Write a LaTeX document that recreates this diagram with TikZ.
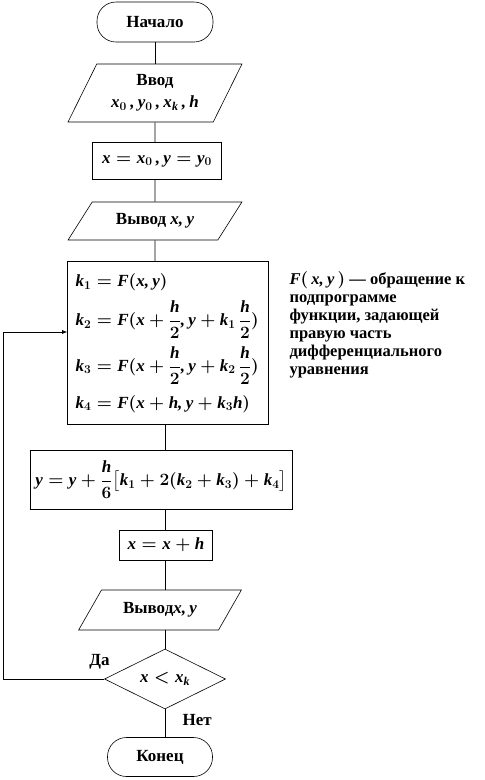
\documentclass[tikz,border=0pt]{standalone}
\usepackage{amsmath}
\usepackage{fontspec}
\setmainfont{Liberation Serif}
\DeclareSymbolFont{tlet}{TU}{\rmdefault}{b}{it}
\DeclareSymbolFont{tup}{TU}{\rmdefault}{b}{n}
\DeclareMathSymbol{x}{\mathalpha}{tlet}{`x}
\DeclareMathSymbol{y}{\mathalpha}{tlet}{`y}
\DeclareMathSymbol{h}{\mathalpha}{tlet}{`h}
\DeclareMathSymbol{k}{\mathalpha}{tlet}{`k}
\DeclareMathSymbol{F}{\mathalpha}{tlet}{`F}
\DeclareMathSymbol{0}{\mathalpha}{tup}{`0}
\DeclareMathSymbol{1}{\mathalpha}{tup}{`1}
\DeclareMathSymbol{2}{\mathalpha}{tup}{`2}
\DeclareMathSymbol{3}{\mathalpha}{tup}{`3}
\DeclareMathSymbol{4}{\mathalpha}{tup}{`4}
\DeclareMathSymbol{6}{\mathalpha}{tup}{`6}
\DeclareMathSymbol{(}{\mathopen}{tlet}{`(}
\DeclareMathSymbol{)}{\mathclose}{tlet}{`)}
\DeclareMathSymbol{,}{\mathpunct}{tlet}{`,}
\usepackage{tikz}
\usetikzlibrary{arrows.meta,shapes.geometric}
\tikzset{
  blockfont/.style={font=\fontsize{17}{20}\selectfont\bfseries\boldmath},
  terminal/.style={draw,rectangle,rounded corners=19pt,line width=0.6pt,
    minimum width=116pt,minimum height=40pt,blockfont},
  io/.style={draw,trapezium,trapezium stretches=true,line width=0.6pt,
    inner sep=2pt,align=center,blockfont},
  process/.style={draw,rectangle,line width=0.6pt,align=center,blockfont},
  decision/.style={draw,diamond,aspect=2,inner sep=0pt,line width=0.6pt,
    minimum width=121pt,minimum height=60pt,blockfont},
  line/.style={draw,line width=0.6pt},
  flow/.style={-{Latex[length=5pt,width=4pt]},line width=0.6pt},
  smalllabel/.style={font=\fontsize{16.5}{18}\selectfont\bfseries\boldmath,align=left}
}
\begin{document}
\begin{tikzpicture}[x=1pt,y=-1pt]
  \useasboundingbox (0,0) rectangle (485,780);
  % main column
  \node[terminal] (start) at (155,22) {Начало};
  \node[io,trapezium left angle=61,trapezium right angle=119,
    minimum width=174pt,minimum height=58pt] (inp) at (155,93)
    {Ввод\\[2pt] $x_0\,,y_0\,,x_k\,,h$};
  \node[process,minimum width=129pt,minimum height=37pt] (init) at (157,161)
    {$x=x_0\,,y=y_0$};
  \node[io,trapezium left angle=50,trapezium right angle=130,
    minimum width=174pt,minimum height=38pt] (out1) at (155,221) {Вывод $x,y$};
  \node[process,align=left,text width=185pt,minimum height=163pt,inner sep=8pt]
    (kbox) at (168,343) {%
    $k_1=F(x,y)$\\[9pt]
    $k_2=F(x+\dfrac{h}{2},y+k_1\,\dfrac{h}{2})$\\[7pt]
    $k_3=F(x+\dfrac{h}{2},y+k_2\,\dfrac{h}{2})$\\[10pt]
    $k_4=F(x+h,y+k_3h)$};
  \node[smalllabel,anchor=north west] (note) at (286,268) {%
    $F(\,x,y\,)$ --- обращение к\\
    подпрограмме\\
    функции, задающей\\
    правую часть\\
    дифференциального\\
    уравнения};
  \node[process,minimum width=262pt,minimum height=59pt] (ybox) at (161,480)
    {$y=y+\dfrac{h}{6}\bigl[k_1+2(k_2+k_3)+k_4\bigr]$};
  \node[process,minimum width=93pt,minimum height=30pt] (xbox) at (166,545)
    {$x=x+h$};
  \node[io,trapezium left angle=51,trapezium right angle=129,
    minimum width=163pt,minimum height=40pt] (out2) at (160,610) {Вывод$x,y$};
  \node[decision] (cond) at (165,679) {$x<x_k$};
  \node[terminal,minimum width=105pt,minimum height=39pt] (stop) at (160,757) {Конец};
  \coordinate (lp) at (3,0);
  % connectors
  \draw[line] (start) -- (inp);
  \draw[line] (inp) -- (init.north -| inp);
  \draw[line] (init.south -| inp) -- (out1);
  \draw[line] (out1) -- (out1 |- kbox.north);
  \draw[line] (kbox.south -| cond) -- (ybox.north -| cond);
  \draw[line] (ybox.south -| cond) -- (xbox.north -| cond);
  \draw[line] (xbox.south -| cond) -- (out2.north -| cond);
  \draw[line] (out2.south -| cond) -- (cond);
  \draw[line] (cond) -- (cond |- stop.north);
  \draw[flow] (cond.west) -- (cond.west -| lp) |- ([yshift=11pt]kbox.west);
  \node[smalllabel,font=\fontsize{17}{20}\selectfont\bfseries,anchor=south east]
    (yes) at ([xshift=9pt,yshift=6pt]cond.west) {Да};
  \node[smalllabel,font=\fontsize{17}{20}\selectfont\bfseries,anchor=north west]
    (no) at ([xshift=14pt,yshift=-2pt]cond.south) {Нет};
\end{tikzpicture}
\end{document}
